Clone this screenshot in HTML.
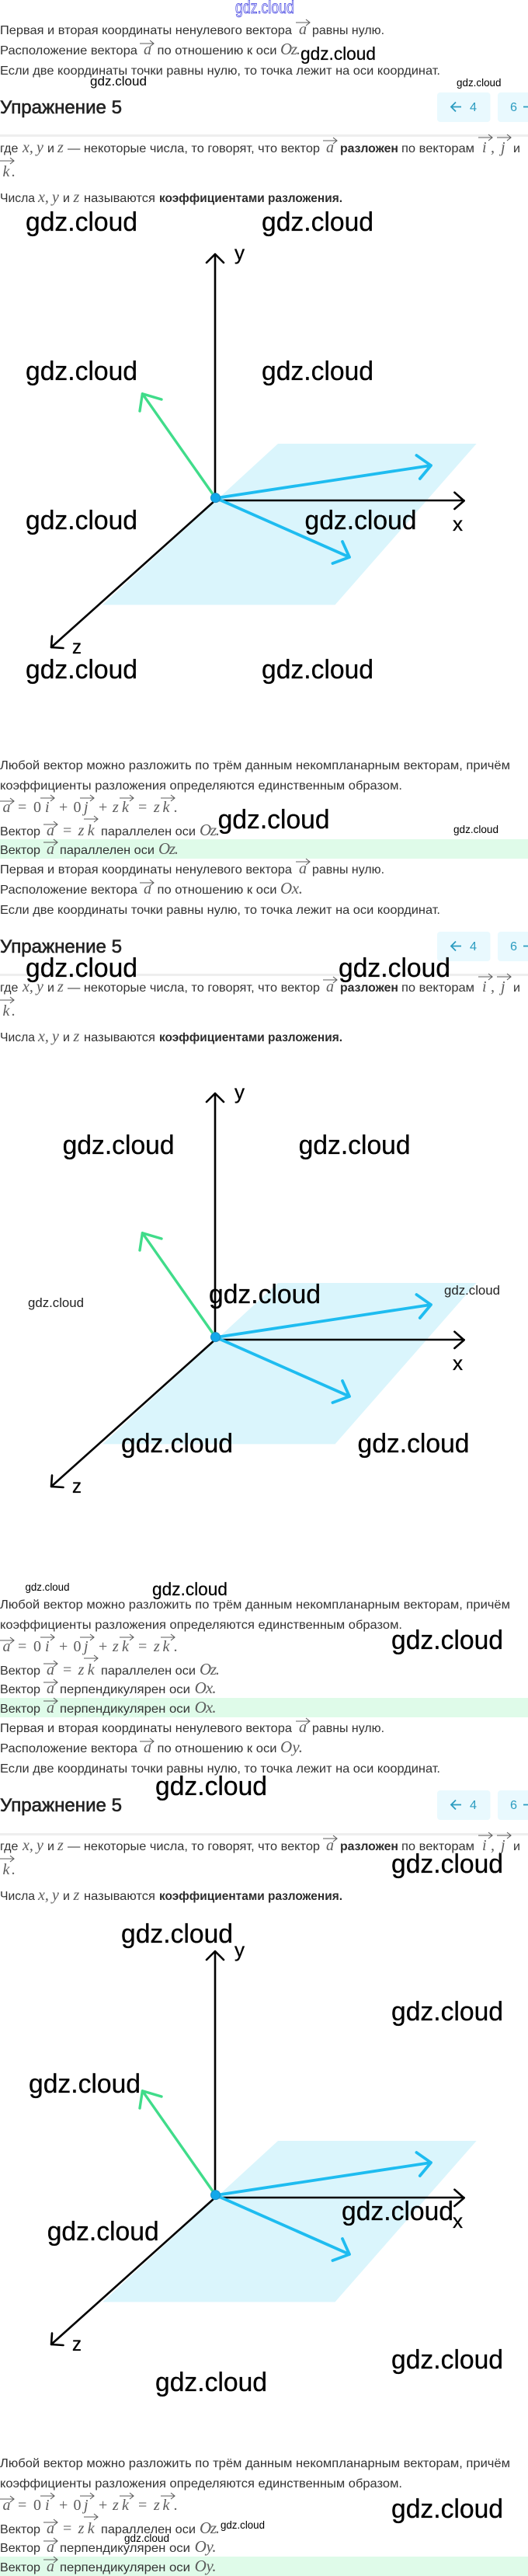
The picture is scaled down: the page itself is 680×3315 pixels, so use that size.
<!DOCTYPE html>
<html lang="ru"><head><meta charset="utf-8"><title>Упражнение 5</title>
<style>
html,body{margin:0;padding:0;background:#fff}
svg{display:block}
.t{font:16px "Liberation Sans",sans-serif;fill:#333}
.b{font:bold 16px "Liberation Sans",sans-serif;fill:#2c2c2c}
.h{font:24px "Liberation Sans",sans-serif;fill:#222;stroke:#222;stroke-width:.6}
.m{font:italic 20px "Liberation Serif",serif;fill:#5c5c5c}
.n{font:20px "Liberation Serif",serif;fill:#5c5c5c}
.o{font:italic 21px "Liberation Serif",serif;fill:#5c5c5c}
.p{font:16px "Liberation Sans",sans-serif;fill:#2b9cc0}
.l{font:26px "Liberation Sans",sans-serif;fill:#000;stroke:#000;stroke-width:.3}
.w{font-family:"Liberation Sans",sans-serif;fill:#000}
.w36{font-size:34px;stroke:#000;stroke-width:.3}.w24{font-size:23px;stroke:#000;stroke-width:.2}.w18{font-size:17px}.w14{font-size:13.5px}
</style></head><body>
<svg xmlns="http://www.w3.org/2000/svg" width="680" height="3315" viewBox="0 0 680 3315">
<defs>
<path id="v" d="M0 -1h18m-5-4l5 4l-5 4" fill="none" stroke="#5c5c5c" stroke-width="1.1"/>
<g id="dia" fill="none" stroke-linecap="round" stroke-linejoin="round">
<polygon points="358,571 613.6,571 431.5,778.4 132,778.4" fill="#daf5fc"/>
<path d="M277 644V327M266 338L277 327L288 338" stroke="#000" stroke-width="2.6"/>
<path d="M277 644H597.6M585.4 633.7L597.6 644.5L585.4 655" stroke="#000" stroke-width="2.6"/>
<path d="M277 644L66 833M67 818.6L66 833L81.5 834" stroke="#000" stroke-width="2.6"/>
<path d="M277 640L183.4 506.7M180 529L183.4 506.7L208 514" stroke="#40dc8a" stroke-width="3.4"/>
<path d="M278 641L555 599M536.4 586L555 599L540.8 616" stroke="#1ebcf0" stroke-width="3.8"/>
<path d="M278 641L450 717M441 697L450 717L428.4 725" stroke="#1ebcf0" stroke-width="3.8"/>
<circle cx="277.5" cy="640.6" r="6" fill="#12a8ea" stroke="#1c8fc4" stroke-width="1"/>
</g>
<g id="btn">
<rect x="563" y="119" width="68.5" height="38" rx="4" fill="#e9f9fe"/>
<rect x="641" y="119" width="50" height="38" rx="4" fill="#e9f9fe"/>
<path d="M581 137.5H594M587 131.5L581 137.5L587 143.5M674 137.5H680" fill="none" stroke="#2b9cc0" stroke-width="1.8"/>
</g>
</defs>

<text class="w" x="303" y="17" font-size="23" textLength="76" lengthAdjust="spacingAndGlyphs" style="fill:#fff;stroke:#3838e0;stroke-width:.8">gdz.cloud</text>

<!-- Section 1 top -->
<text class="t" x="0" y="44" textLength="376" lengthAdjust="spacingAndGlyphs">Первая и вторая координаты ненулевого вектора</text>
<use href="#v" x="381" y="30"/><text class="m" x="385" y="44">a</text>
<text class="t" x="402" y="44" textLength="93" lengthAdjust="spacingAndGlyphs">равны нулю.</text>
<text class="t" x="0" y="70" textLength="177" lengthAdjust="spacingAndGlyphs">Расположение вектора</text>
<use href="#v" x="180" y="57"/><text class="m" x="185" y="70">a</text>
<text class="t" x="202.5" y="70" textLength="154" lengthAdjust="spacingAndGlyphs">по отношению к оси</text>
<text class="o" x="361" y="70" textLength="26">Oz.</text>
<text class="t" x="0" y="96" textLength="567" lengthAdjust="spacingAndGlyphs">Если две координаты точки равны нулю, то точка лежит на оси координат.</text>
<text class="h" x="0" y="146" textLength="157" lengthAdjust="spacingAndGlyphs">Упражнение 5</text>
<use href="#btn"/><text class="p" x="605" y="143" textLength="9" lengthAdjust="spacingAndGlyphs">4</text><text class="p" x="657" y="143" textLength="9" lengthAdjust="spacingAndGlyphs">6</text>
<rect x="0" y="173" width="680" height="3" fill="#eeeeee"/>
<text class="t" x="0" y="196">где</text><text class="m" x="29" y="196">x,</text><text class="m" x="47" y="196">y</text><text class="t" x="61" y="196">и</text><text class="m" x="74" y="196">z</text>
<text class="t" x="87" y="196" textLength="325" lengthAdjust="spacingAndGlyphs">— некоторые числа, то говорят, что вектор</text>
<use href="#v" x="416" y="182"/><text class="m" x="420" y="196">a</text>
<text class="b" x="438" y="196" textLength="75" lengthAdjust="spacingAndGlyphs">разложен</text>
<text class="t" x="517" y="196" textLength="94" lengthAdjust="spacingAndGlyphs">по векторам</text>
<use href="#v" x="616" y="178"/><text class="m" x="621" y="196">i</text><text class="m" x="632" y="196">,</text>
<use href="#v" x="640" y="178"/><text class="m" x="645" y="196">j</text>
<text class="t" x="661" y="196">и</text>
<use href="#v" x="0" y="208"/><text class="m" x="3.5" y="227">k</text><text class="m" x="15" y="227">.</text>
<text class="t" x="0" y="260" textLength="45" lengthAdjust="spacingAndGlyphs">Числа</text><text class="m" x="49" y="260">x,</text><text class="m" x="67" y="260">y</text><text class="t" x="81" y="260">и</text><text class="m" x="94.5" y="260">z</text>
<text class="t" x="108" y="260" textLength="92" lengthAdjust="spacingAndGlyphs">называются</text>
<text class="b" x="205" y="260" textLength="236" lengthAdjust="spacingAndGlyphs">коэффициентами разложения.</text>

<!-- Diagram 1 -->
<use href="#dia"/>
<text class="l" x="302" y="334" textLength="13" lengthAdjust="spacingAndGlyphs">y</text>
<text class="l" x="583" y="683" textLength="13" lengthAdjust="spacingAndGlyphs">x</text>
<text class="l" x="93" y="841" textLength="12" lengthAdjust="spacingAndGlyphs">z</text>

<!-- Section 1 bottom -->
<text class="t" x="0" y="990" textLength="657" lengthAdjust="spacingAndGlyphs">Любой вектор можно разложить по трём данным некомпланарным векторам, причём</text>
<text class="t" x="0" y="1016" textLength="518" lengthAdjust="spacingAndGlyphs">коэффициенты разложения определяются единственным образом.</text>
<use href="#v" x="0" y="1032"/><text class="m" x="3.5" y="1045">a</text><text class="n" x="23" y="1045">=</text><text class="n" x="43" y="1045">0</text>
<use href="#v" x="52" y="1028"/><text class="m" x="58" y="1045">i</text><text class="n" x="76" y="1045">+</text><text class="n" x="94.5" y="1045">0</text>
<use href="#v" x="103" y="1028"/><text class="m" x="108" y="1045">j</text><text class="n" x="127" y="1045">+</text><text class="m" x="145" y="1045">z</text>
<use href="#v" x="154" y="1028"/><text class="m" x="157" y="1045">k</text><text class="n" x="178" y="1045">=</text><text class="m" x="198" y="1045">z</text>
<use href="#v" x="207" y="1028"/><text class="m" x="209.5" y="1045">k</text><text class="m" x="224" y="1045">.</text>
<text class="t" x="0" y="1075" textLength="52" lengthAdjust="spacingAndGlyphs">Вектор</text>
<use href="#v" x="56" y="1062"/><text class="m" x="60" y="1075">a</text><text class="n" x="81" y="1075">=</text><text class="m" x="100.6" y="1075">z</text>
<use href="#v" x="108" y="1055"/><text class="m" x="112.7" y="1075">k</text>
<text class="t" x="130" y="1075" textLength="122" lengthAdjust="spacingAndGlyphs">параллелен оси</text><text class="o" x="257" y="1075" textLength="26">Oz.</text>
<rect x="0" y="1080" width="680" height="25" fill="#dffbe9"/>
<text class="t" x="0" y="1099" textLength="52" lengthAdjust="spacingAndGlyphs">Вектор</text>
<use href="#v" x="56" y="1085"/><text class="m" x="60" y="1099">a</text>
<text class="t" x="77" y="1099" textLength="122" lengthAdjust="spacingAndGlyphs">параллелен оси</text><text class="o" x="204" y="1099" textLength="26">Oz.</text>

<!-- Section 2 top -->
<text class="t" x="0" y="1124" textLength="376" lengthAdjust="spacingAndGlyphs">Первая и вторая координаты ненулевого вектора</text>
<use href="#v" x="381" y="1110"/><text class="m" x="385" y="1124">a</text>
<text class="t" x="402" y="1124" textLength="93" lengthAdjust="spacingAndGlyphs">равны нулю.</text>
<text class="t" x="0" y="1150" textLength="177" lengthAdjust="spacingAndGlyphs">Расположение вектора</text>
<use href="#v" x="180" y="1137"/><text class="m" x="185" y="1150">a</text>
<text class="t" x="202.5" y="1150" textLength="154" lengthAdjust="spacingAndGlyphs">по отношению к оси</text>
<text class="o" x="361" y="1150" textLength="29">Ox.</text>
<text class="t" x="0" y="1176" textLength="567" lengthAdjust="spacingAndGlyphs">Если две координаты точки равны нулю, то точка лежит на оси координат.</text>
<text class="h" x="0" y="1226" textLength="157" lengthAdjust="spacingAndGlyphs">Упражнение 5</text>
<use href="#btn" y="1080"/><text class="p" x="605" y="1223" textLength="9" lengthAdjust="spacingAndGlyphs">4</text><text class="p" x="657" y="1223" textLength="9" lengthAdjust="spacingAndGlyphs">6</text>
<rect x="0" y="1253" width="680" height="3" fill="#eeeeee"/>
<text class="t" x="0" y="1276">где</text><text class="m" x="29" y="1276">x,</text><text class="m" x="47" y="1276">y</text><text class="t" x="61" y="1276">и</text><text class="m" x="74" y="1276">z</text>
<text class="t" x="87" y="1276" textLength="325" lengthAdjust="spacingAndGlyphs">— некоторые числа, то говорят, что вектор</text>
<use href="#v" x="416" y="1262"/><text class="m" x="420" y="1276">a</text>
<text class="b" x="438" y="1276" textLength="75" lengthAdjust="spacingAndGlyphs">разложен</text>
<text class="t" x="517" y="1276" textLength="94" lengthAdjust="spacingAndGlyphs">по векторам</text>
<use href="#v" x="616" y="1258"/><text class="m" x="621" y="1276">i</text><text class="m" x="632" y="1276">,</text>
<use href="#v" x="640" y="1258"/><text class="m" x="645" y="1276">j</text>
<text class="t" x="661" y="1276">и</text>
<use href="#v" x="0" y="1288"/><text class="m" x="3.5" y="1307">k</text><text class="m" x="15" y="1307">.</text>
<text class="t" x="0" y="1340" textLength="45" lengthAdjust="spacingAndGlyphs">Числа</text><text class="m" x="49" y="1340">x,</text><text class="m" x="67" y="1340">y</text><text class="t" x="81" y="1340">и</text><text class="m" x="94.5" y="1340">z</text>
<text class="t" x="108" y="1340" textLength="92" lengthAdjust="spacingAndGlyphs">называются</text>
<text class="b" x="205" y="1340" textLength="236" lengthAdjust="spacingAndGlyphs">коэффициентами разложения.</text>

<!-- Diagram 2 -->
<use href="#dia" y="1080"/>
<text class="l" x="302" y="1414" textLength="13" lengthAdjust="spacingAndGlyphs">y</text>
<text class="l" x="583" y="1763" textLength="13" lengthAdjust="spacingAndGlyphs">x</text>
<text class="l" x="93" y="1921" textLength="12" lengthAdjust="spacingAndGlyphs">z</text>

<!-- Section 2 bottom -->
<text class="t" x="0" y="2070" textLength="657" lengthAdjust="spacingAndGlyphs">Любой вектор можно разложить по трём данным некомпланарным векторам, причём</text>
<text class="t" x="0" y="2096" textLength="518" lengthAdjust="spacingAndGlyphs">коэффициенты разложения определяются единственным образом.</text>
<use href="#v" x="0" y="2112"/><text class="m" x="3.5" y="2125">a</text><text class="n" x="23" y="2125">=</text><text class="n" x="43" y="2125">0</text>
<use href="#v" x="52" y="2108"/><text class="m" x="58" y="2125">i</text><text class="n" x="76" y="2125">+</text><text class="n" x="94.5" y="2125">0</text>
<use href="#v" x="103" y="2108"/><text class="m" x="108" y="2125">j</text><text class="n" x="127" y="2125">+</text><text class="m" x="145" y="2125">z</text>
<use href="#v" x="154" y="2108"/><text class="m" x="157" y="2125">k</text><text class="n" x="178" y="2125">=</text><text class="m" x="198" y="2125">z</text>
<use href="#v" x="207" y="2108"/><text class="m" x="209.5" y="2125">k</text><text class="m" x="224" y="2125">.</text>
<text class="t" x="0" y="2155" textLength="52" lengthAdjust="spacingAndGlyphs">Вектор</text>
<use href="#v" x="56" y="2142"/><text class="m" x="60" y="2155">a</text><text class="n" x="81" y="2155">=</text><text class="m" x="100.6" y="2155">z</text>
<use href="#v" x="108" y="2135"/><text class="m" x="112.7" y="2155">k</text>
<text class="t" x="130" y="2155" textLength="122" lengthAdjust="spacingAndGlyphs">параллелен оси</text><text class="o" x="257" y="2155" textLength="26">Oz.</text>
<text class="t" x="0" y="2179" textLength="52" lengthAdjust="spacingAndGlyphs">Вектор</text>
<use href="#v" x="56" y="2166"/><text class="m" x="60" y="2179">a</text>
<text class="t" x="77" y="2179" textLength="168" lengthAdjust="spacingAndGlyphs">перпендикулярен оси</text><text class="o" x="250.6" y="2179" textLength="28">Ox.</text>
<rect x="0" y="2185" width="680" height="25" fill="#dffbe9"/>
<text class="t" x="0" y="2204" textLength="52" lengthAdjust="spacingAndGlyphs">Вектор</text>
<use href="#v" x="56" y="2190"/><text class="m" x="60" y="2204">a</text>
<text class="t" x="77" y="2204" textLength="168" lengthAdjust="spacingAndGlyphs">перпендикулярен оси</text><text class="o" x="250.6" y="2204" textLength="28">Ox.</text>

<!-- Section 3 top -->
<text class="t" x="0" y="2229" textLength="376" lengthAdjust="spacingAndGlyphs">Первая и вторая координаты ненулевого вектора</text>
<use href="#v" x="381" y="2216"/><text class="m" x="385" y="2229">a</text>
<text class="t" x="402" y="2229" textLength="93" lengthAdjust="spacingAndGlyphs">равны нулю.</text>
<text class="t" x="0" y="2255" textLength="177" lengthAdjust="spacingAndGlyphs">Расположение вектора</text>
<use href="#v" x="180" y="2242"/><text class="m" x="185" y="2255">a</text>
<text class="t" x="202.5" y="2255" textLength="154" lengthAdjust="spacingAndGlyphs">по отношению к оси</text>
<text class="o" x="361" y="2255" textLength="29">Oy.</text>
<text class="t" x="0" y="2281" textLength="567" lengthAdjust="spacingAndGlyphs">Если две координаты точки равны нулю, то точка лежит на оси координат.</text>
<text class="h" x="0" y="2331" textLength="157" lengthAdjust="spacingAndGlyphs">Упражнение 5</text>
<use href="#btn" y="2185"/><text class="p" x="605" y="2328" textLength="9" lengthAdjust="spacingAndGlyphs">4</text><text class="p" x="657" y="2328" textLength="9" lengthAdjust="spacingAndGlyphs">6</text>
<rect x="0" y="2359" width="680" height="3" fill="#eeeeee"/>
<text class="t" x="0" y="2381">где</text><text class="m" x="29" y="2381">x,</text><text class="m" x="47" y="2381">y</text><text class="t" x="61" y="2381">и</text><text class="m" x="74" y="2381">z</text>
<text class="t" x="87" y="2381" textLength="325" lengthAdjust="spacingAndGlyphs">— некоторые числа, то говорят, что вектор</text>
<use href="#v" x="416" y="2367"/><text class="m" x="420" y="2381">a</text>
<text class="b" x="438" y="2381" textLength="75" lengthAdjust="spacingAndGlyphs">разложен</text>
<text class="t" x="517" y="2381" textLength="94" lengthAdjust="spacingAndGlyphs">по векторам</text>
<use href="#v" x="616" y="2363"/><text class="m" x="621" y="2381">i</text><text class="m" x="632" y="2381">,</text>
<use href="#v" x="640" y="2363"/><text class="m" x="645" y="2381">j</text>
<text class="t" x="661" y="2381">и</text>
<use href="#v" x="0" y="2393"/><text class="m" x="3.5" y="2412">k</text><text class="m" x="15" y="2412">.</text>
<text class="t" x="0" y="2445" textLength="45" lengthAdjust="spacingAndGlyphs">Числа</text><text class="m" x="49" y="2445">x,</text><text class="m" x="67" y="2445">y</text><text class="t" x="81" y="2445">и</text><text class="m" x="94.5" y="2445">z</text>
<text class="t" x="108" y="2445" textLength="92" lengthAdjust="spacingAndGlyphs">называются</text>
<text class="b" x="205" y="2445" textLength="236" lengthAdjust="spacingAndGlyphs">коэффициентами разложения.</text>

<!-- Diagram 3 -->
<use href="#dia" y="2184"/>
<text class="l" x="302" y="2518" textLength="13" lengthAdjust="spacingAndGlyphs">y</text>
<text class="l" x="583" y="2867" textLength="13" lengthAdjust="spacingAndGlyphs">x</text>
<text class="l" x="93" y="3025" textLength="12" lengthAdjust="spacingAndGlyphs">z</text>

<!-- Section 3 bottom -->
<text class="t" x="0" y="3175" textLength="657" lengthAdjust="spacingAndGlyphs">Любой вектор можно разложить по трём данным некомпланарным векторам, причём</text>
<text class="t" x="0" y="3201" textLength="518" lengthAdjust="spacingAndGlyphs">коэффициенты разложения определяются единственным образом.</text>
<use href="#v" x="0" y="3217"/><text class="m" x="3.5" y="3230">a</text><text class="n" x="23" y="3230">=</text><text class="n" x="43" y="3230">0</text>
<use href="#v" x="52" y="3213"/><text class="m" x="58" y="3230">i</text><text class="n" x="76" y="3230">+</text><text class="n" x="94.5" y="3230">0</text>
<use href="#v" x="103" y="3213"/><text class="m" x="108" y="3230">j</text><text class="n" x="127" y="3230">+</text><text class="m" x="145" y="3230">z</text>
<use href="#v" x="154" y="3213"/><text class="m" x="157" y="3230">k</text><text class="n" x="178" y="3230">=</text><text class="m" x="198" y="3230">z</text>
<use href="#v" x="207" y="3213"/><text class="m" x="209.5" y="3230">k</text><text class="m" x="224" y="3230">.</text>
<text class="t" x="0" y="3260" textLength="52" lengthAdjust="spacingAndGlyphs">Вектор</text>
<use href="#v" x="56" y="3247"/><text class="m" x="60" y="3260">a</text><text class="n" x="81" y="3260">=</text><text class="m" x="100.6" y="3260">z</text>
<use href="#v" x="108" y="3240"/><text class="m" x="112.7" y="3260">k</text>
<text class="t" x="130" y="3260" textLength="122" lengthAdjust="spacingAndGlyphs">параллелен оси</text><text class="o" x="257" y="3260" textLength="26">Oz.</text>
<text class="t" x="0" y="3284" textLength="52" lengthAdjust="spacingAndGlyphs">Вектор</text>
<use href="#v" x="56" y="3271"/><text class="m" x="60" y="3284">a</text>
<text class="t" x="77" y="3284" textLength="168" lengthAdjust="spacingAndGlyphs">перпендикулярен оси</text><text class="o" x="250.6" y="3284" textLength="28">Oy.</text>
<rect x="0" y="3290" width="680" height="25" fill="#dffbe9"/>
<text class="t" x="0" y="3309" textLength="52" lengthAdjust="spacingAndGlyphs">Вектор</text>
<use href="#v" x="56" y="3295"/><text class="m" x="60" y="3309">a</text>
<text class="t" x="77" y="3309" textLength="168" lengthAdjust="spacingAndGlyphs">перпендикулярен оси</text><text class="o" x="250.6" y="3309" textLength="28">Oy.</text>

<!-- Watermarks -->
<g>
<text class="w w24" x="387" y="77" textLength="97" lengthAdjust="spacingAndGlyphs">gdz.cloud</text>
<text class="w w18" x="116" y="110" textLength="73" lengthAdjust="spacingAndGlyphs">gdz.cloud</text>
<text class="w w14" x="588" y="111" textLength="57.5" lengthAdjust="spacingAndGlyphs">gdz.cloud</text>
<text class="w w36" x="33" y="297" textLength="144" lengthAdjust="spacingAndGlyphs">gdz.cloud</text>
<text class="w w36" x="337" y="297" textLength="144" lengthAdjust="spacingAndGlyphs">gdz.cloud</text>
<text class="w w36" x="33" y="489" textLength="144" lengthAdjust="spacingAndGlyphs">gdz.cloud</text>
<text class="w w36" x="337" y="489" textLength="144" lengthAdjust="spacingAndGlyphs">gdz.cloud</text>
<text class="w w36" x="33" y="681" textLength="144" lengthAdjust="spacingAndGlyphs">gdz.cloud</text>
<text class="w w36" x="392.5" y="681" textLength="144" lengthAdjust="spacingAndGlyphs">gdz.cloud</text>
<text class="w w36" x="33" y="873" textLength="144" lengthAdjust="spacingAndGlyphs">gdz.cloud</text>
<text class="w w36" x="337" y="873" textLength="144" lengthAdjust="spacingAndGlyphs">gdz.cloud</text>
<text class="w w36" x="280.6" y="1066" textLength="144" lengthAdjust="spacingAndGlyphs">gdz.cloud</text>
<text class="w w14" x="584" y="1072" textLength="58" lengthAdjust="spacingAndGlyphs">gdz.cloud</text>
<text class="w w36" x="33" y="1257" textLength="144" lengthAdjust="spacingAndGlyphs">gdz.cloud</text>
<text class="w w36" x="436" y="1257" textLength="144" lengthAdjust="spacingAndGlyphs">gdz.cloud</text>
<text class="w w36" x="80.6" y="1485" textLength="144" lengthAdjust="spacingAndGlyphs">gdz.cloud</text>
<text class="w w36" x="384.6" y="1485" textLength="144" lengthAdjust="spacingAndGlyphs">gdz.cloud</text>
<text class="w w36" x="269" y="1677" textLength="144" lengthAdjust="spacingAndGlyphs">gdz.cloud</text>
<text class="w w18" x="572" y="1666" textLength="72" lengthAdjust="spacingAndGlyphs" style="fill:#222">gdz.cloud</text>
<text class="w w18" x="36" y="1682" textLength="72" lengthAdjust="spacingAndGlyphs" style="fill:#222">gdz.cloud</text>
<text class="w w36" x="156" y="1869" textLength="144" lengthAdjust="spacingAndGlyphs">gdz.cloud</text>
<text class="w w36" x="460.5" y="1869" textLength="144" lengthAdjust="spacingAndGlyphs">gdz.cloud</text>
<text class="w w14" x="32.5" y="2047" textLength="57" lengthAdjust="spacingAndGlyphs">gdz.cloud</text>
<text class="w w24" x="196" y="2053" textLength="97" lengthAdjust="spacingAndGlyphs">gdz.cloud</text>
<text class="w w36" x="504" y="2122" textLength="144" lengthAdjust="spacingAndGlyphs">gdz.cloud</text>
<text class="w w36" x="200" y="2310" textLength="144" lengthAdjust="spacingAndGlyphs">gdz.cloud</text>
<text class="w w36" x="504" y="2410" textLength="144" lengthAdjust="spacingAndGlyphs">gdz.cloud</text>
<text class="w w36" x="156" y="2500" textLength="144" lengthAdjust="spacingAndGlyphs">gdz.cloud</text>
<text class="w w36" x="504" y="2600" textLength="144" lengthAdjust="spacingAndGlyphs">gdz.cloud</text>
<text class="w w36" x="37" y="2693" textLength="144" lengthAdjust="spacingAndGlyphs">gdz.cloud</text>
<text class="w w36" x="440" y="2857" textLength="144" lengthAdjust="spacingAndGlyphs">gdz.cloud</text>
<text class="w w36" x="60.7" y="2883" textLength="144" lengthAdjust="spacingAndGlyphs">gdz.cloud</text>
<text class="w w36" x="504" y="3048" textLength="144" lengthAdjust="spacingAndGlyphs">gdz.cloud</text>
<text class="w w36" x="200" y="3077" textLength="144" lengthAdjust="spacingAndGlyphs">gdz.cloud</text>
<text class="w w36" x="504" y="3240" textLength="144" lengthAdjust="spacingAndGlyphs">gdz.cloud</text>
<text class="w w14" x="284" y="3254" textLength="57" lengthAdjust="spacingAndGlyphs">gdz.cloud</text>
<text class="w w14" x="160" y="3271" textLength="58" lengthAdjust="spacingAndGlyphs">gdz.cloud</text>
</g>
</svg>
</body></html>
